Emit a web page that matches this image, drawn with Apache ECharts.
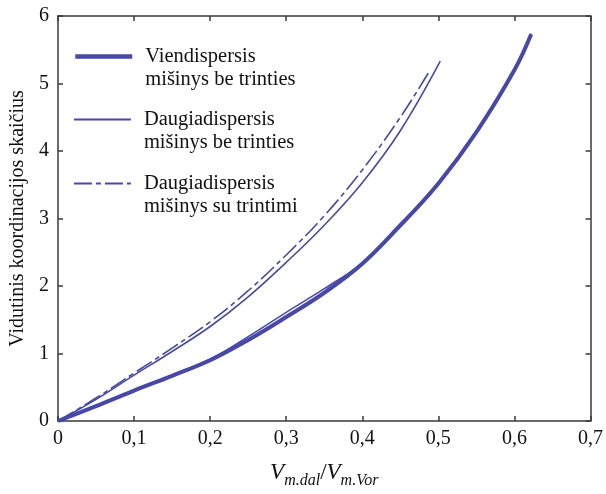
<!DOCTYPE html>
<html><head><meta charset="utf-8">
<script src="https://cdn.jsdelivr.net/npm/echarts@6/dist/echarts.min.js"></script>
<style>html,body{margin:0;padding:0;background:#fff}#c{width:606px;height:494px}</style>
</head><body><div id="c"></div>
<script>
const xTickLabels = ['0', '0,1', '0,2', '0,3', '0,4', '0,5', '0,6', '0,7'];
const yTickLabels = ['0', '1', '2', '3', '4', '5', '6'];
const seriesNames = ['Viendispersis\nmišinys be trinties', 'Daugiadispersis\nmišinys be trinties', 'Daugiadispersis\nmišinys su trintimi'];

const thickX = [0, 0.05, 0.1, 0.15, 0.2, 0.25, 0.3, 0.35, 0.4, 0.45, 0.5, 0.55, 0.6, 0.622];
const thickY = [0, 0.22, 0.45, 0.67, 0.9, 1.2, 1.54, 1.9, 2.33, 2.9, 3.52, 4.28, 5.2, 5.73];
const thinLowX = [0, 0.1, 0.2, 0.25, 0.3, 0.35, 0.4, 0.45, 0.5, 0.55, 0.6, 0.622];
const thinLowY = [0, 0.46, 0.92, 1.25, 1.61, 1.96, 2.34, 2.88, 3.5, 4.27, 5.2, 5.74];
const solidX = [0, 0.05, 0.1, 0.15, 0.2, 0.25, 0.3, 0.35, 0.4, 0.45, 0.5025];
const solidY = [0, 0.32, 0.68, 1.03, 1.4, 1.84, 2.35, 2.9, 3.53, 4.3, 5.33];
const dashX = [0, 0.05, 0.1, 0.15, 0.2, 0.25, 0.3, 0.35, 0.4, 0.45, 0.487];
const dashY = [0, 0.34, 0.71, 1.08, 1.47, 1.93, 2.46, 3.04, 3.72, 4.5, 5.16];

const pairs = (xs, ys) => xs.map((x, i) => [x, ys[i]]);
const COLOR = '#4848a8';
const FONT = 'Liberation Serif';
const axisCol = '#3a3a3a';

const chart = echarts.init(document.getElementById('c'), null, {renderer: 'canvas'});

function legendFor(name, top, lineStyle) {
  return {
    data: [name], left: 73, top: top, orient: 'vertical', padding: 0,
    itemWidth: 57, itemHeight: 12,
    itemStyle: {opacity: 0},
    lineStyle: lineStyle,
    formatter: n => '\n' + n,
    textStyle: {fontFamily: FONT, fontSize: 20.5, color: '#111', lineHeight: 23, padding: [3, 0, 0, 8]},
    selectedMode: false
  };
}

const baseAxis = {
  min: 0, splitLine: {show: false},
  axisLine: {show: true, onZero: false, lineStyle: {color: axisCol, width: 1.5}},
  axisTick: {show: true, inside: true, length: 5, lineStyle: {color: axisCol, width: 1.5}}
};

chart.setOption({
  animation: false,
  backgroundColor: '#fff',
  grid: {left: 57, right: 14, top: 16, bottom: 56},
  legend: [
    legendFor(seriesNames[0], 20.5, {width: 4.5}),
    legendFor(seriesNames[1], 83.5, {width: 1.8}),
    legendFor(seriesNames[2], 147.5, {width: 1.8})
  ],
  xAxis: [
    Object.assign({}, baseAxis, {
      type: 'value', max: 0.7, interval: 0.1, position: 'bottom',
      axisLabel: {fontFamily: FONT, fontSize: 20, color: '#111', margin: 8,
        formatter: v => xTickLabels[Math.round(v * 10)]},
      name: '{v|V}{s|m.dal}{n|/}{v|V}{s|m.Vor}',
      nameLocation: 'middle', nameGap: 36,
      nameTextStyle: {rich: {
        v: {fontFamily: FONT, fontStyle: 'italic', fontSize: 23, color: '#111'},
        n: {fontFamily: FONT, fontSize: 23, color: '#111'},
        s: {fontFamily: FONT, fontStyle: 'italic', fontSize: 16, color: '#111', padding: [16, 0, 0, 0]}
      }}
    }),
    Object.assign({}, baseAxis, {
      type: 'value', max: 0.7, interval: 0.1, position: 'top', axisLabel: {show: false}
    })
  ],
  yAxis: [
    Object.assign({}, baseAxis, {
      type: 'value', max: 6, interval: 1, position: 'left',
      axisLabel: {fontFamily: FONT, fontSize: 20, color: '#111', margin: 9,
        formatter: v => yTickLabels[Math.round(v)]},
      name: 'Vidutinis koordinacijos skaičius', nameLocation: 'middle', nameGap: 30,
      nameTextStyle: {fontFamily: FONT, fontSize: 20, color: '#111'}
    }),
    Object.assign({}, baseAxis, {
      type: 'value', max: 6, interval: 1, position: 'right', axisLabel: {show: false}
    })
  ],
  series: [
    {name: seriesNames[0], type: 'line', smooth: 0.4, symbol: 'none', data: pairs(thickX, thickY),
      lineStyle: {color: COLOR, width: 4}, itemStyle: {color: COLOR}},
    {name: 'lower-thin', type: 'line', smooth: 0.4, symbol: 'none', data: pairs(thinLowX, thinLowY),
      lineStyle: {color: COLOR, width: 1.5}, itemStyle: {color: COLOR}},
    {name: seriesNames[1], type: 'line', smooth: 0.4, symbol: 'none', data: pairs(solidX, solidY),
      lineStyle: {color: COLOR, width: 1.6}, itemStyle: {color: COLOR}},
    {name: seriesNames[2], type: 'line', smooth: 0.4, symbol: 'none', data: pairs(dashX, dashY),
      lineStyle: {color: COLOR, width: 1.6, type: [18, 4, 5, 4]}, itemStyle: {color: COLOR}}
  ]
});
</script>
</body></html>
